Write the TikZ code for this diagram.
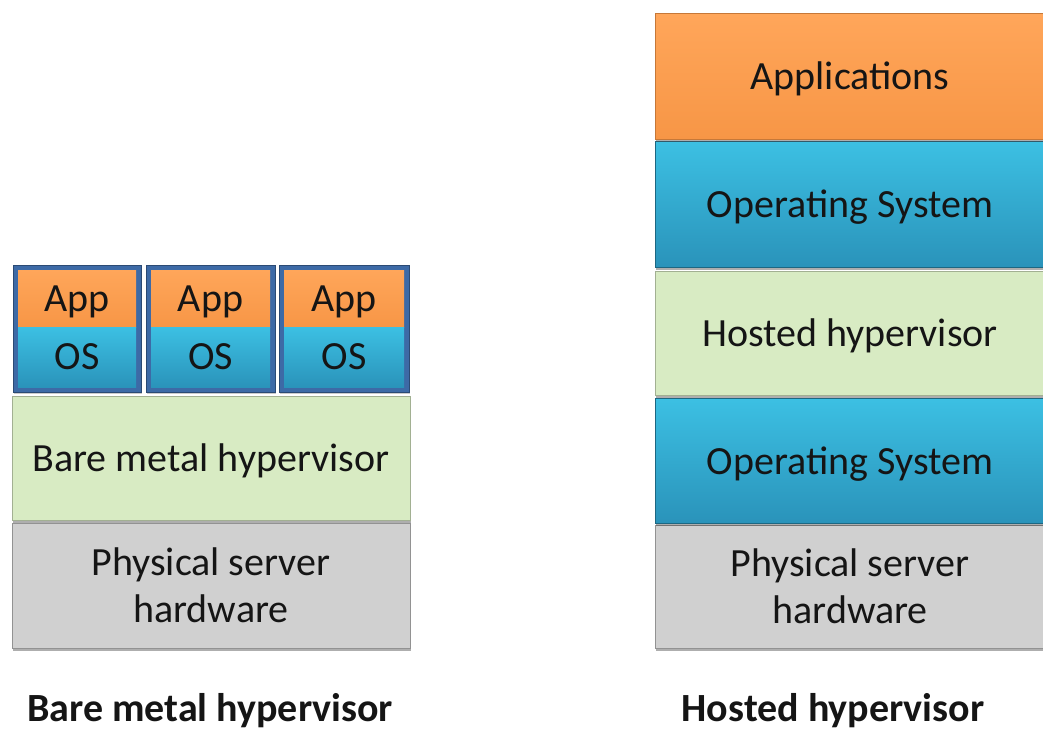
\documentclass[tikz,border=0pt]{standalone}
\usepackage{fontspec}
\setmainfont{Carlito}
\usetikzlibrary{shadows}
\definecolor{apptop}{HTML}{FFA65A}
\definecolor{appbot}{HTML}{F79646}
\definecolor{ostop}{HTML}{3CC0E3}
\definecolor{osbot}{HTML}{2A93BA}
\definecolor{hvfill}{HTML}{D8EBC3}
\definecolor{hwfill}{HTML}{D0D0D0}
\definecolor{framec}{HTML}{3D6AA6}
\definecolor{txt}{HTML}{151515}
\begin{document}
\begin{tikzpicture}[x=1pt,y=-1pt,
  layer/.style={anchor=north west, inner sep=0pt, outer sep=0pt, align=center,
     text=txt, font=\fontsize{40}{47}\selectfont, text depth=0pt,
     drop shadow={shadow xshift=1pt, shadow yshift=-3pt, opacity=0.45, fill=black!70}},
  applayer/.style={layer, top color=apptop, bottom color=appbot, draw=appbot!80!black, line width=0.6pt},
  oslayer/.style={layer, top color=ostop, bottom color=osbot, draw=osbot!70!black, line width=0.6pt},
  hvlayer/.style={layer, fill=hvfill, draw=hvfill!75!black, line width=0.6pt},
  hwlayer/.style={layer, fill=hwfill, draw=hwfill!70!black, line width=0.6pt},
  vmframe/.style={anchor=north west, inner sep=0pt, outer sep=0pt, fill=framec, draw=framec!70!black, line width=0.6pt,
     drop shadow={shadow xshift=1pt, shadow yshift=-2pt, opacity=0.4}},
  vmapp/.style={anchor=north west, inner sep=0pt, outer sep=0pt, top color=apptop, bottom color=appbot,
     minimum width=118pt, minimum height=57pt, text=txt, font=\fontsize{40}{47}\selectfont, text depth=0pt},
  vmos/.style={anchor=north west, inner sep=0pt, outer sep=0pt, top color=ostop, bottom color=osbot,
     minimum width=118pt, minimum height=60pt, text=txt, font=\fontsize{40}{47}\selectfont, text depth=0pt},
  caption/.style={anchor=base, text=txt, font=\bfseries\fontsize{40}{46}\selectfont}
]
\useasboundingbox (0,0) rectangle (1043,731);

% ---- Bare metal side ----
\node[hwlayer, minimum width=398pt, minimum height=125pt] (bhw) at (12,523) {Physical server\\hardware};
\node[hvlayer, minimum width=398pt, minimum height=124pt] (bhv) at (12,396) {Bare metal hypervisor};

\node[vmframe, minimum width=128pt, minimum height=127pt] (f1) at (13,265) {};
\node[vmframe, minimum width=129pt, minimum height=127pt] (f2) at (146,265) {};
\node[vmframe, minimum width=130pt, minimum height=127pt] (f3) at (279,265) {};

\node[vmapp] (a1) at (18,270) {App};
\node[vmos] (o1) at (18,327) {OS};
\node[vmapp, minimum width=119pt] (a2) at (151,270) {App};
\node[vmos, minimum width=119pt] (o2) at (151,327) {OS};
\node[vmapp, minimum width=120pt] (a3) at (284,270) {App};
\node[vmos, minimum width=120pt] (o3) at (284,327) {OS};

\node[caption] (capl) at (210,721) {Bare metal hypervisor};

% ---- Hosted side ----
\node[hwlayer, minimum width=390pt, minimum height=123pt] (hhw) at (655,525) {Physical server\\hardware};
\node[oslayer, minimum width=390pt, minimum height=125pt] (hos1) at (655,398) {Operating System};
\node[hvlayer, minimum width=390pt, minimum height=124pt] (hhv) at (655,271) {Hosted hypervisor};
\node[oslayer, minimum width=390pt, minimum height=126pt] (hos2) at (655,141) {Operating System};
\node[applayer, minimum width=390pt, minimum height=126pt] (happ) at (655,13) {Applications};

\node[caption] (capr) at (833,721) {Hosted hypervisor};
\end{tikzpicture}
\end{document}
